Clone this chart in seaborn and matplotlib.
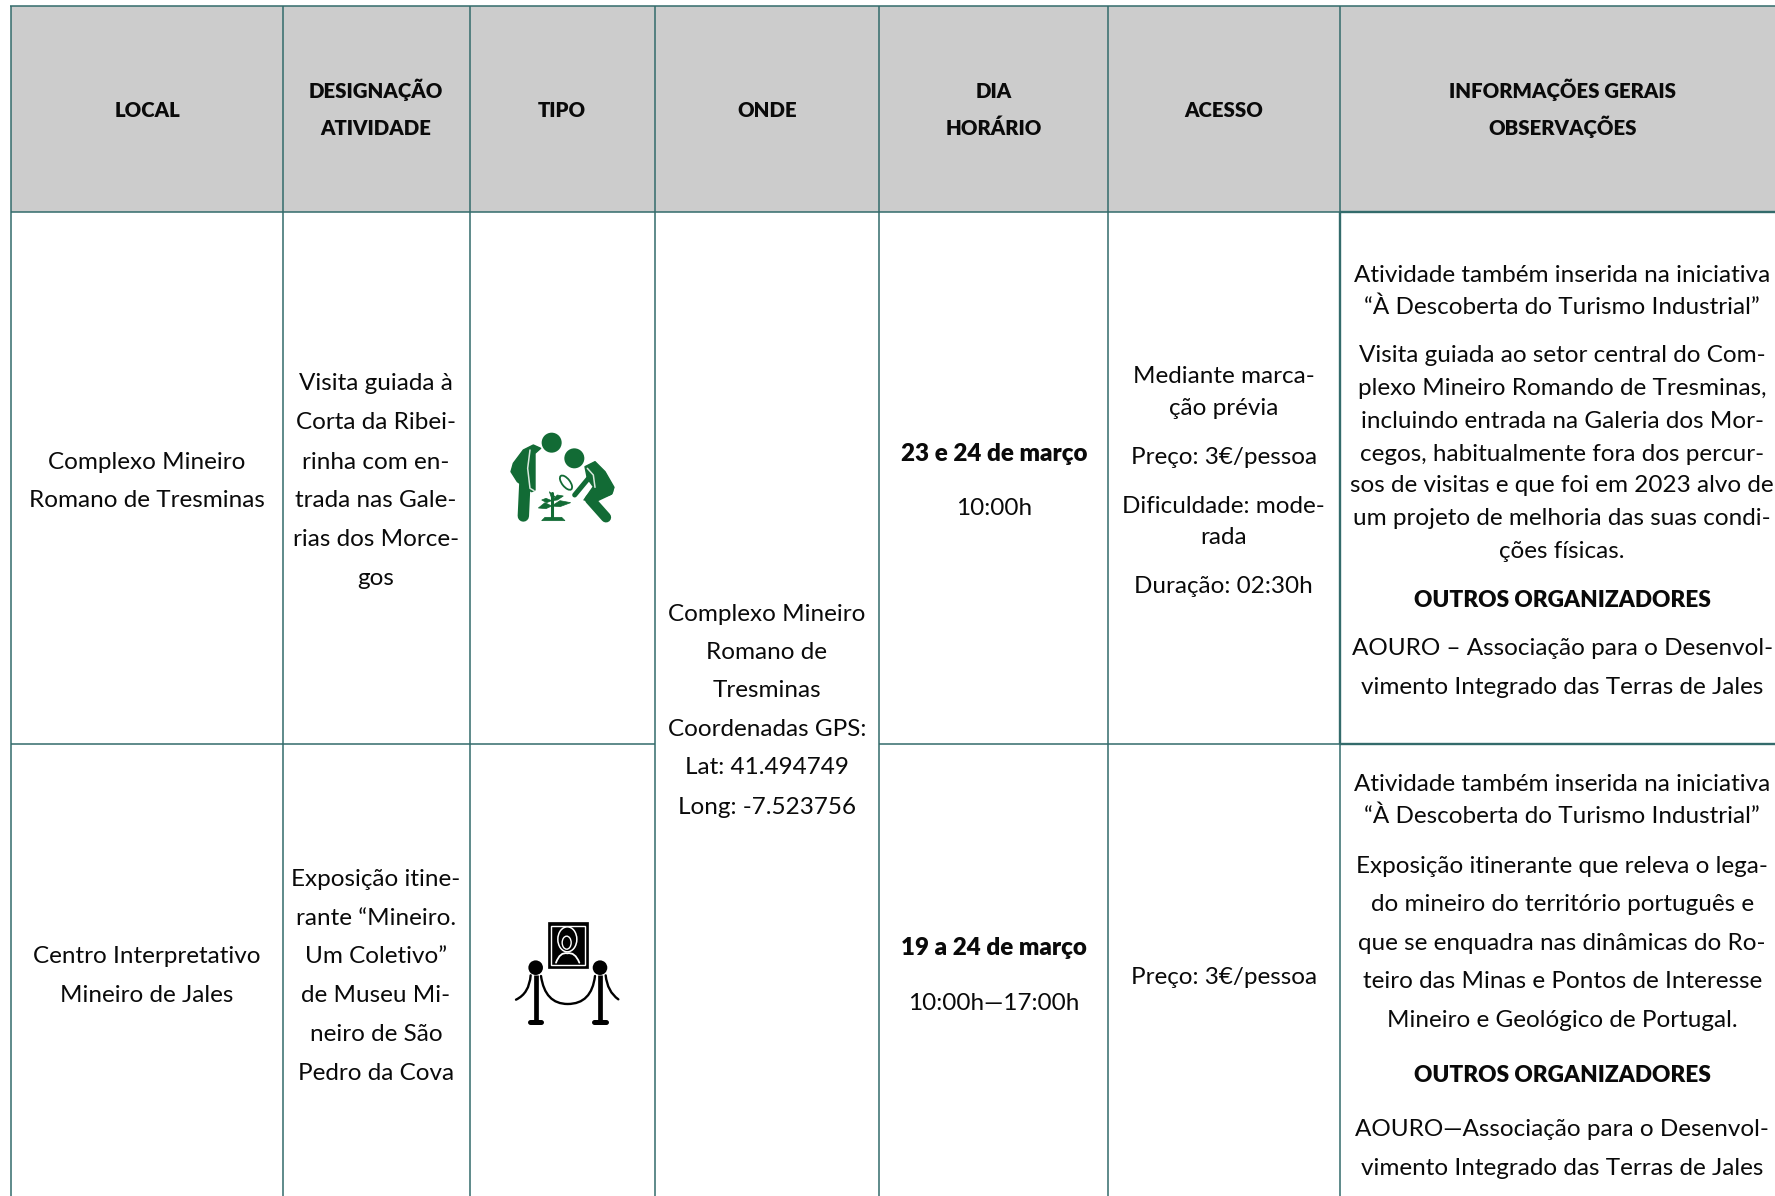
import numpy as np
import matplotlib.pyplot as plt
import seaborn as sns
from matplotlib.colors import ListedColormap
from matplotlib.patches import Circle, Ellipse, PathPatch, Polygon, Rectangle
from matplotlib.path import Path

W, H = 1775, 1196
SCALE = 1775 / 1568

sns.set_style("white")
plt.rcParams["font.family"] = ["Lato", "DejaVu Sans"]

LINE = "#336b6b"
GREY = "#cccccc"
GREEN = "#126b35"
TEXT_SIZE = 17.5
BOLD_SIZE = 16.3
DATE_SIZE = 17.4
HEAD_SIZE = 14.7
BOLD = 800

# table layout
col_edges = [11, 283, 470, 655, 879, 1108, 1339.5]
header_top, header_bottom, row_line = 6, 212, 744

# header text: (column centre, y, label)
col_centres = [130, 332, 496, 677.5, 878, 1081, 1380]
headers = [
    [("LOCAL", 95.5)],
    [("DESIGNAÇÃO", 78.5), ("ATIVIDADE", 111.5)],
    [("TIPO", 95.5)],
    [("ONDE", 95.5)],
    [("DIA", 78.5), ("HORÁRIO", 111.5)],
    [("ACESSO", 95.5)],
    [("INFORMAÇÕES GERAIS", 78.5), ("OBSERVAÇÕES", 111.5)],
]

local = [("Complexo Mineiro", 406), ("Romano de Tresminas", 440),
         ("Centro Interpretativo", 843), ("Mineiro de Jales", 877)]
designacao = [("Visita guiada à", 337), ("Corta da Ribei-", 371), ("rinha com en-", 406),
              ("trada nas Gale-", 440), ("rias dos Morce-", 474), ("gos", 509),
              ("Exposição itine-", 775), ("rante “Mineiro.", 809), ("Um Coletivo”", 843),
              ("de Museu Mi-", 877), ("neiro de São", 912), ("Pedro da Cova", 946)]
onde = [("Complexo Mineiro", 541), ("Romano de", 574), ("Tresminas", 608),
        ("Coordenadas GPS:", 642), ("Lat: 41.494749", 676), ("Long: -7.523756", 711)]
dia = [("10:00h", 447), ("10:00h—17:00h", 884)]
dia_bold = [("23 e 24 de março", 399), ("19 a 24 de março", 836)]
acesso = [("Mediante marca-", 330), ("ção prévia", 359), ("Preço: 3€/pessoa", 402),
          ("Dificuldade: mode-", 445), ("rada", 473), ("Duração: 02:30h", 516),
          ("Preço: 3€/pessoa", 861)]
info = [("Atividade também inserida na iniciativa", 241), ("“À Descoberta do Turismo Industrial”", 269),
        ("Visita guiada ao setor central do Com-", 312), ("plexo Mineiro Romando de Tresminas,", 341),
        ("incluindo entrada na Galeria dos Mor-", 370), ("cegos, habitualmente fora dos percur-", 399),
        ("sos de visitas e que foi em 2023 alvo de", 427), ("um projeto de melhoria das suas condi-", 456),
        ("ções físicas.", 485),
        ("AOURO – Associação para o Desenvol-", 571), ("vimento Integrado das Terras de Jales", 605),
        ("Atividade também inserida na iniciativa", 691), ("“À Descoberta do Turismo Industrial”", 719),
        ("Exposição itinerante que releva o lega-", 763), ("do mineiro do território português e", 797),
        ("que se enquadra nas dinâmicas do Ro-", 831), ("teiro das Minas e Pontos de Interesse", 865),
        ("Mineiro e Geológico de Portugal.", 899),
        ("AOURO—Associação para o Desenvol-", 996), ("vimento Integrado das Terras de Jales", 1030)]
info_bold = [("OUTROS ORGANIZADORES", 528), ("OUTROS ORGANIZADORES", 948)]

fig = plt.figure(figsize=(W / 100, H / 100), dpi=100)

# grey header band, as a one cell heatmap
hx = fig.add_axes([col_edges[0] / W, 1 - header_bottom / H,
                   (W - col_edges[0]) / W, (header_bottom - header_top) / H])
sns.heatmap(np.array([[1.0]]), cmap=ListedColormap([GREY]), cbar=False,
            xticklabels=False, yticklabels=False, ax=hx)

ax = fig.add_axes([0, 0, 1, 1], facecolor="none")
ax.set_xlim(0, W)
ax.set_ylim(H, 0)
ax.axis("off")

# grid lines
LW = 1.1
ax.vlines(col_edges[:-1], header_top, H, color=LINE, lw=LW)
ax.vlines(col_edges[-1], header_top, header_bottom, color=LINE, lw=LW)
ax.vlines(col_edges[-1], row_line, H, color=LINE, lw=LW)
ax.hlines(header_top, col_edges[0] - 1, W, color=LINE, lw=LW)
ax.hlines(header_bottom, col_edges[0], col_edges[-1], color=LINE, lw=LW)
ax.hlines(row_line, col_edges[0], col_edges[3], color=LINE, lw=LW)
ax.hlines(row_line, col_edges[4], col_edges[-1], color=LINE, lw=LW)
# the highlighted info cell has a heavier border
ax.vlines(col_edges[-1], header_bottom, row_line, color=LINE, lw=1.7)
ax.hlines([header_bottom, row_line], col_edges[-1], W, color=LINE, lw=1.7)


def put(rows, cx, size=TEXT_SIZE, weight="normal"):
    for label, y in rows:
        ax.text(cx * SCALE, y * SCALE + 9, label, ha="center", va="baseline",
                fontsize=size, fontweight=weight, color="#0a0a0a")


for cx, rows in zip(col_centres, headers):
    put(rows, cx, size=HEAD_SIZE, weight=BOLD)
put(local, col_centres[0])
put(designacao, col_centres[1])
put(onde, col_centres[3])
put(dia, col_centres[4])
put(dia_bold, col_centres[4], size=DATE_SIZE, weight=BOLD)
put(acesso, col_centres[5])
put(info, col_centres[6])
put(info_bold, col_centres[6], size=BOLD_SIZE, weight=BOLD)


# icons are traced in the 3x zoom space of the source crop
def z(pts, x0, y0):
    return [(x0 + px / 3, y0 + py / 3) for px, py in pts]


def curve(pts, x0, y0, color, lw):
    codes = [Path.MOVETO] + [Path.CURVE3] * (len(pts) - 1)
    ax.add_patch(PathPatch(Path(z(pts, x0, y0), codes), fc="none", ec=color, lw=lw, capstyle="round"))


def stroke(pts, x0, y0, color, lw, cap="round"):
    ax.plot(*zip(*z(pts, x0, y0)), color=color, lw=lw, solid_capstyle=cap, solid_joinstyle="round")


# green icon: two people looking at a plant
gx, gy = 480, 400
for cx, cy in [(215, 128), (283, 175)]:
    ax.add_patch(Circle((gx + cx / 3, gy + cy / 3), 10, fc=GREEN, ec="none"))
left_body = [(182, 145), (160, 135), (130, 150), (100, 190), (93, 215), (112, 245), (155, 275), (165, 270), (165, 160)]
right_body = [(315, 200), (345, 185), (375, 215), (402, 262), (395, 282), (345, 300), (312, 300), (340, 260), (322, 235)]
ax.add_patch(Polygon(z(left_body, gx, gy), fc=GREEN, ec=GREEN, lw=1, joinstyle="round"))
ax.add_patch(Polygon(z(right_body, gx, gy), fc=GREEN, ec=GREEN, lw=1, joinstyle="round"))
stroke([(135, 240), (130, 348)], gx, gy, GREEN, 8.2)
stroke([(385, 272), (330, 298), (378, 352)], gx, gy, GREEN, 7.4)
stroke([(328, 232), (284, 285)], gx, gy, GREEN, 3.6)
stroke([(150, 150), (143, 205), (150, 265), (162, 272)], gx, gy, "#d8e8dd", 1.1)
stroke([(322, 205), (340, 225), (345, 262)], gx, gy, "#d8e8dd", 1.1)
ax.add_patch(Ellipse((gx + 258 / 3, gy + 248 / 3), 8, 17, angle=-38, fc="white", ec=GREEN, lw=1.3))
stroke([(215, 278), (215, 355)], gx, gy, GREEN, 2.2)
ax.add_patch(Polygon(z([(185, 362), (195, 352), (245, 352), (255, 362)], gx, gy), fc=GREEN, ec=GREEN, lw=0.5))
for leaf in [[(215, 318), (195, 308), (175, 324), (198, 326)],
             [(215, 318), (240, 302), (272, 308), (240, 320)],
             [(215, 302), (198, 295), (185, 300), (200, 308)],
             [(215, 302), (232, 285), (250, 288), (232, 300)],
             [(215, 295), (208, 275), (225, 290)]]:
    ax.add_patch(Polygon(z(leaf, gx, gy), fc=GREEN, ec=GREEN, lw=0.5))

# black icon: framed portrait behind two rope posts
bx, by = 480, 900
ax.add_patch(Rectangle((bx + 205 / 3, by + 67 / 3), 118 / 3, 138 / 3, fc="black", ec="black", lw=0.5))
ax.add_patch(Rectangle((bx + 214 / 3, by + 77 / 3), 100 / 3, 118 / 3, fc="none", ec="white", lw=1))
ax.add_patch(Ellipse((bx + 262 / 3, by + 118 / 3), 19, 25, fc="black", ec="white", lw=1.1))
ax.add_patch(Ellipse((bx + 260 / 3, by + 128 / 3), 9, 13, fc="black", ec="white", lw=1))
curve([(228, 188), (240, 155), (262, 160), (285, 155), (298, 188)], bx, by, "white", 1.3)
for px in [167, 360]:
    ax.add_patch(Circle((bx + px / 3, by + 203 / 3), 7.3, fc="black", ec="none"))
    stroke([(px, 225), (px, 365)], bx, by, "black", 3.4, cap="butt")
    stroke([(px - 17, 366), (px + 17, 366)], bx, by, "black", 3.6)
curve([(183, 228), (195, 312), (263, 312), (335, 312), (345, 228)], bx, by, "black", 1.7)
curve([(152, 226), (148, 280), (108, 299)], bx, by, "black", 1.7)
curve([(377, 226), (382, 275), (415, 298)], bx, by, "black", 1.7)

fig.savefig("out.png", dpi=100)
